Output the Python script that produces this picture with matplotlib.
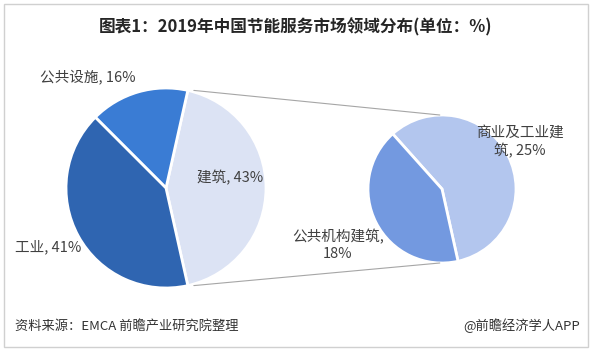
import matplotlib.pyplot as plt
from matplotlib.patches import ConnectionPatch, Rectangle
import numpy as np

plt.rcParams['font.family'] = ['Noto Sans CJK SC', 'DejaVu Sans']

# 数据
main_labels = ['建筑', '公共设施', '工业']
main_values = [43, 16, 41]
main_colors = ['#DCE3F4', '#3A7CD4', '#2F65B1']

sub_labels = ['商业及工业建筑', '公共机构建筑']
sub_values = [25, 18]
sub_colors = ['#B3C6EE', '#7399E0']

W, H = 591, 354
fig = plt.figure(figsize=(W / 100, H / 100), dpi=100)


def px_axes(cx, cy, r):
    # 以像素给定圆心和半径，返回方形坐标轴
    return fig.add_axes([(cx - r) / W, (H - cy - r) / H, 2 * r / W, 2 * r / H])


def px_text(x, y, s, **kw):
    fig.text(x / W, 1 - y / H, s, **kw)


# 主饼图
ax1 = px_axes(166, 188, 100)
start = -main_values[0] / 100 * 360 / 2
wedges1, _ = ax1.pie(main_values, colors=main_colors, startangle=start,
                     counterclock=True,
                     wedgeprops=dict(edgecolor='white', linewidth=2))
ax1.set_xlim(-1, 1)
ax1.set_ylim(-1, 1)

# 子饼图
ax2 = px_axes(442, 189, 74)
sub_frac = sub_values[0] / sum(sub_values)
wedges2, _ = ax2.pie(sub_values, colors=sub_colors, startangle=-77.5,
                     counterclock=True,
                     wedgeprops=dict(edgecolor='white', linewidth=2))
ax2.set_xlim(-1, 1)
ax2.set_ylim(-1, 1)

# 连接线
t1 = np.deg2rad(wedges1[0].theta2)
t2 = np.deg2rad(wedges1[0].theta1)
for th, yy in [(t1, 1), (t2, -1)]:
    con = ConnectionPatch(xyA=(np.cos(th) + 0.06, np.sin(th)), coordsA=ax1.transData,
                          xyB=(-0.03, yy * 1.0), coordsB=ax2.transData,
                          color='#A6A6A6', linewidth=0.8)
    fig.add_artist(con)

lab = dict(fontsize=10.5, color='#404040')
px_text(88, 77, '公共设施, 16%', ha='center', va='center', **lab)
px_text(230, 178, '建筑, 43%', ha='center', va='center', **lab)
px_text(48, 247, '工业, 41%', ha='center', va='center', **lab)
px_text(520, 142, '商业及工业建\n筑, 25%', ha='center', va='center',
        linespacing=1.25, **lab)
px_text(338, 245, '公共机构建筑,\n18%', ha='center', va='center',
        linespacing=1.25, **lab)

# 标题和脚注
px_text(296, 27, '图表1：2019年中国节能服务市场领域分布(单位：%)', ha='center',
        va='center', fontsize=12, fontweight='bold', color='#262626')
px_text(15, 326, '资料来源：EMCA 前瞻产业研究院整理', ha='left', va='center',
        fontsize=9.5, color='#333333')
px_text(580, 326, '@前瞻经济学人APP', ha='right', va='center',
        fontsize=9.5, color='#333333')

# 外框
fig.add_artist(Rectangle((3.5 / W, 1 - 346.5 / H), 584 / W, 343 / H,
                         transform=fig.transFigure, fill=False,
                         edgecolor='#D0D0D0', linewidth=1))

fig.savefig('out.png', dpi=100)
